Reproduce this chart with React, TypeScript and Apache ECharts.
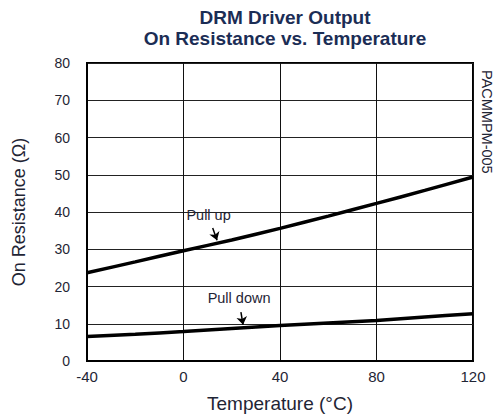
import React, { useEffect, useRef } from "react";
import * as echarts from "echarts";

const temperatures = [-40, -20, 0, 20, 40, 60, 80, 100, 120];
const pullUp = [23.7, 26.6, 29.6, 32.5, 35.6, 38.9, 42.3, 45.8, 49.4];
const pullDown = [6.6, 7.2, 7.9, 8.7, 9.5, 10.2, 10.9, 11.8, 12.7];
const xTicks = [-40, 0, 40, 80, 120];
const yTicks = [0, 10, 20, 30, 40, 50, 60, 70, 80];

const textColor = "#1f2535";

export default function App() {
  const ref = useRef<HTMLDivElement>(null);
  useEffect(() => {
    document.body.style.margin = "0";
    const chart = echarts.init(ref.current!, null, { renderer: "svg" });
    const arrowLine = (from: number[], to: number[]) => ({
      type: "line",
      silent: true,
      symbol: ["none", "arrow"],
      symbolSize: 8,
      label: { show: false },
      lineStyle: { color: "#000", width: 1.5, type: "solid" },
      data: [[{ coord: from }, { coord: to }]],
    });
    const annot = (text: string, coord: number[]) => ({
      silent: true,
      symbol: "rect",
      symbolSize: 0,
      data: [{ coord }],
      label: {
        show: true,
        position: "right",
        distance: 0,
        formatter: text,
        fontFamily: "Liberation Sans",
        fontSize: 14.5,
        color: textColor,
      },
    });
    chart.setOption({
      animation: false,
      backgroundColor: "#fff",
      title: {
        text: "DRM Driver Output\nOn Resistance vs. Temperature",
        top: 2,
        left: 280,
        textAlign: "center",
        textStyle: {
          fontFamily: "Liberation Sans",
          fontSize: 19,
          fontWeight: "bold",
          color: "#1b2d55",
          lineHeight: 21,
        },
      },
      grid: {
        left: 87,
        right: 22,
        top: 63,
        bottom: 55,
        show: true,
        borderColor: "#000",
        borderWidth: 2,
      },
      xAxis: {
        type: "value",
        min: -40,
        max: 120,
        interval: 40,
        name: "Temperature (°C)",
        nameLocation: "middle",
        nameGap: 33,
        nameTextStyle: { fontFamily: "Liberation Sans", fontSize: 19, color: textColor },
        axisLine: { show: true, onZero: false, lineStyle: { color: "#000", width: 2 } },
        axisTick: { show: false },
        axisLabel: {
          margin: 8,
          fontFamily: "Liberation Sans",
          fontSize: 15,
          color: textColor,
          formatter: (v: number) => (xTicks.includes(v) ? String(v) : ""),
        },
        splitLine: { show: true, lineStyle: { color: "#111", width: 1 } },
      },
      yAxis: {
        type: "value",
        min: 0,
        max: 80,
        interval: 10,
        name: "On Resistance (Ω)",
        nameLocation: "middle",
        nameGap: 59,
        nameTextStyle: { fontFamily: "Liberation Sans", fontSize: 18, color: textColor },
        axisLine: { show: true, onZero: false, lineStyle: { color: "#000", width: 2 } },
        axisTick: { show: false },
        axisLabel: {
          margin: 17,
          fontFamily: "Liberation Sans",
          fontSize: 14,
          color: textColor,
          formatter: (v: number) => (yTicks.includes(v) ? String(v) : ""),
        },
        splitLine: { show: true, lineStyle: { color: "#222", width: 1 } },
      },
      series: [
        {
          name: "Pull up",
          type: "line",
          smooth: 0.3,
          symbol: "none",
          lineStyle: { color: "#000", width: 3.5 },
          data: temperatures.map((t, i) => [t, pullUp[i]]),
          markLine: arrowLine([12.1, 35.7], [13.9, 32.4]),
          markPoint: annot("Pull up", [1.2, 39.3]),
        },
        {
          name: "Pull down",
          type: "line",
          smooth: 0.3,
          symbol: "none",
          lineStyle: { color: "#000", width: 3.5 },
          data: temperatures.map((t, i) => [t, pullDown[i]]),
          markLine: arrowLine([23.8, 13.1], [24.7, 9.7]),
          markPoint: annot("Pull down", [10.0, 16.9]),
        },
      ],
      graphic: [
        {
          type: "text",
          x: 479,
          y: 70,
          rotation: -Math.PI / 2,
          style: {
            text: "PACMMPM-005",
            fontFamily: "Liberation Sans",
            fontSize: 14.5,
            fill: textColor,
            textAlign: "left",
            textVerticalAlign: "bottom",
          },
        },
      ],
    });
    return () => chart.dispose();
  }, []);
  return <div ref={ref} style={{ width: 495, height: 418 }} />;
}
